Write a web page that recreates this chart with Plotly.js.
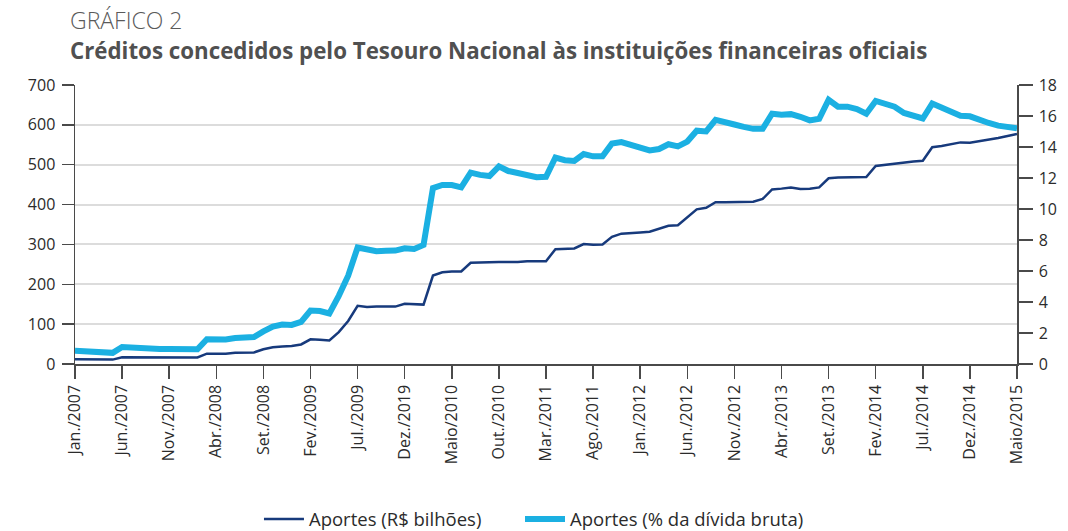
<!DOCTYPE html>
<html>
<head>
<meta charset="utf-8">
<script src="https://cdn.plot.ly/plotly-3.0.1.min.js"></script>
<style>html,body{margin:0;padding:0;background:#fff;}#chart{width:1068px;height:531px;}</style>
</head>
<body>
<div id="chart"></div>
<script>
// Monthly index: 0 = Jan/2007 ... 100 = Maio/2015
const months = Array.from({length: 101}, (_, i) => i);

const tickPositions = [0,5,10,15,20,25,30,35,40,45,50,55,60,65,70,75,80,85,90,95,100];
const tickLabels = ["Jan./2007","Jun./2007","Nov./2007","Abr./2008","Set./2008","Fev./2009","Jul./2009","Dez./2019","Maio/2010","Out./2010","Mar./2011","Ago./2011","Jan./2012","Jun./2012","Nov./2012","Abr./2013","Set./2013","Fev./2014","Jul./2014","Dez./2014","Maio/2015"];

// Aportes (R$ bilhões) - left axis
const aportesBi = [
  12,12,12,11,11,17,17,16.5,16,16,
  16,16.5,16.5,16.5,26,26,26,28,28,29,
  37,42,44,45,49,62,61,59,80,108,
  146,143,144,144,144,151,150,149,222,230,
  232,232,254,255,255,256,256,256,258,258,
  258,288,289,290,301,299,300,319,327,328,
  330,332,340,347,348,368,388,392,406,406,
  406,406,407,414,438,440,443,439,440,443,
  466,468,468,468,469,497,500,502,505,508,
  510,544,547,552,556,555,559,562,567,572,
  577
];

// Aportes (% da dívida bruta) - right axis
const aportesPct = [
  0.85,0.84,0.80,0.74,0.72,1.10,1.05,1.02,1.00,0.97,
  0.96,0.98,0.97,0.95,1.60,1.58,1.58,1.68,1.70,1.74,
  2.10,2.42,2.55,2.52,2.72,3.45,3.42,3.26,4.40,5.70,
  7.52,7.36,7.28,7.30,7.32,7.47,7.42,7.68,11.35,11.55,
  11.55,11.40,12.35,12.20,12.13,12.75,12.45,12.32,12.22,12.05,
  12.08,13.32,13.15,13.10,13.55,13.40,13.40,14.23,14.32,14.12,
  13.92,13.78,13.87,14.18,14.04,14.35,15.05,15.00,15.75,15.55,
  15.45,15.30,15.17,15.17,16.15,16.08,16.12,15.95,15.72,15.82,
  17.05,16.60,16.60,16.45,16.15,16.97,16.80,16.60,16.20,16.00,
  15.84,16.80,16.55,16.27,16.01,15.98,15.73,15.55,15.38,15.25,
  15.20
];

const seriesNames = ["Aportes (R$ bilhões)", "Aportes (% da dívida bruta)"];

const FONT = "Open Sans, Noto Sans, sans-serif";
const AXIS = "#4a4a4a";
const TXT = "#2b2b2b";

const traces = [
  {
    x: months, y: aportesBi, name: seriesNames[0], type: "scatter", mode: "lines",
    line: {color: "#173a7c", width: 2.5}, yaxis: "y", hoverinfo: "skip", legend: "legend"
  },
  {
    x: months, y: aportesPct, name: seriesNames[1], type: "scatter", mode: "lines",
    line: {color: "#1bb0e2", width: 6}, yaxis: "y2", hoverinfo: "skip", legend: "legend2"
  }
];

const legendCommon = {
  orientation: "h", xanchor: "left", yanchor: "middle", y: -0.5575,
  font: {family: FONT, size: 18.5, color: TXT}, itemwidth: 40, bgcolor: "rgba(0,0,0,0)"
};

const layout = {
  width: 1068, height: 531,
  margin: {l: 75, r: 51, t: 85, b: 167, pad: 0, autoexpand: false},
  paper_bgcolor: "#fff", plot_bgcolor: "#fff",
  font: {family: FONT, color: TXT, size: 16},
  showlegend: true,
  legend: Object.assign({}, legendCommon, {x: 0.1953}),
  legend2: Object.assign({}, legendCommon, {x: 0.4724}),
  xaxis: {
    range: [0, 100], tickmode: "array", tickvals: tickPositions, ticktext: tickLabels,
    tickangle: -90, ticks: "outside", ticklen: 13, tickcolor: AXIS, tickwidth: 1.5,
    showline: true, linecolor: AXIS, linewidth: 1.5, showgrid: false, zeroline: false,
    tickfont: {family: FONT, size: 16, color: TXT}, fixedrange: true, automargin: false
  },
  yaxis: {
    range: [0, 700], dtick: 100, tick0: 0, ticks: "outside", ticklen: 12, tickcolor: AXIS, tickwidth: 1.5,
    showline: true, linecolor: AXIS, linewidth: 1.5, showgrid: true, gridcolor: "#dcdcdc", gridwidth: 2,
    zeroline: false, ticklabelstandoff: 3, automargin: false,
    tickfont: {family: FONT, size: 16, color: TXT}, fixedrange: true
  },
  yaxis2: {
    range: [0, 18], dtick: 2, tick0: 0, overlaying: "y", side: "right",
    ticks: "outside", ticklen: 14, tickcolor: AXIS, tickwidth: 1.5,
    showline: true, linecolor: AXIS, linewidth: 1.5, showgrid: false, zeroline: false,
    ticklabelstandoff: 3, automargin: false,
    tickfont: {family: FONT, size: 16, color: TXT}, fixedrange: true
  },
  annotations: [
    {
      xref: "paper", yref: "paper", x: -0.0074, y: 1.233, xanchor: "left", yanchor: "middle",
      text: "GRÁFICO 2", showarrow: false,
      font: {family: "Open Sans, sans-serif", size: 23, color: "#5a5a5a", weight: 300}
    },
    {
      xref: "paper", yref: "paper", x: -0.0074, y: 1.122, xanchor: "left", yanchor: "middle",
      text: "<b>Créditos concedidos pelo Tesouro Nacional às instituições financeiras oficiais</b>", showarrow: false,
      font: {family: "Open Sans, sans-serif", size: 22.3, color: "#505050"}
    }
  ]
};

Plotly.newPlot("chart", traces, layout, {displayModeBar: false, staticPlot: true});
</script>
</body>
</html>
